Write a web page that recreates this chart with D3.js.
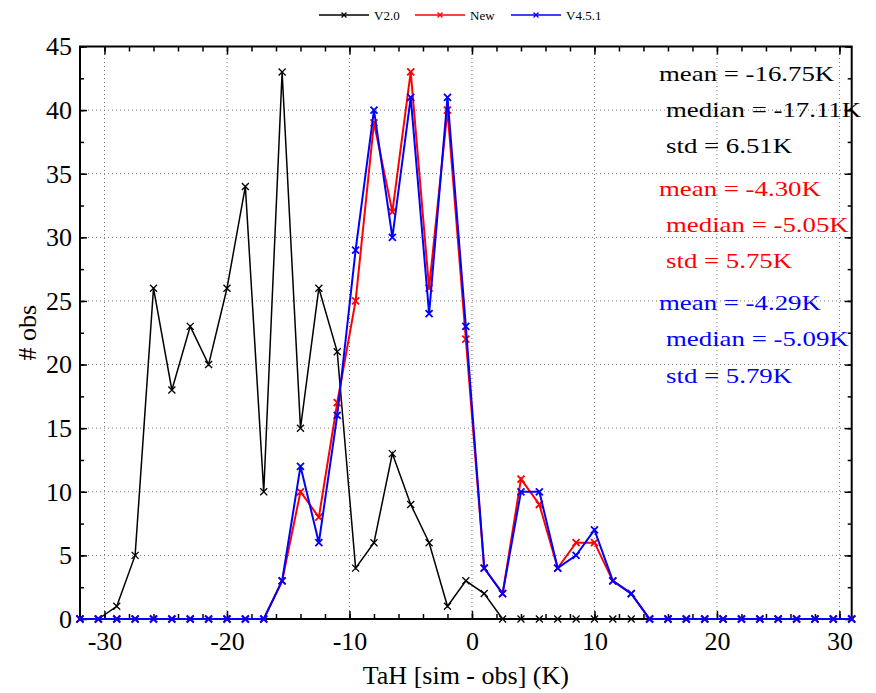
<!DOCTYPE html>
<html>
<head>
<meta charset="utf-8">
<script src="https://cdn.jsdelivr.net/npm/d3@7"></script>
<style>
  body { margin: 0; background: #fff; }
  text { font-family: "Liberation Serif", "Times New Roman", serif; }
</style>
</head>
<body>
<div id="chart"></div>
<script>
// bins of the histogram (K), one every 1.5 K
var binCenters = d3.range(43).map(function (k) { return -32 + 1.5 * k; });

var v20 = [0,0,1,5,26,18,23,20,26,34,10,43,15,26,21,4,6,13,9,6,1,3,2,
           0,0,0,0,0,0,0,0,0,0,0,0,0,0,0,0,0,0,0,0];
var vNew = [0,0,0,0,0,0,0,0,0,0,0,
            3,10,8,17,25,39,32,43,26,40,22,4,2,11,9,4,6,6,3,2,
            0,0,0,0,0,0,0,0,0,0,0,0];
var v451 = [0,0,0,0,0,0,0,0,0,0,0,
            3,12,6,16,29,40,30,41,24,41,23,4,2,10,10,4,5,7,3,2,
            0,0,0,0,0,0,0,0,0,0,0,0];

var seriesNames = ["V2.0", "New", "V4.5.1"];
var seriesColors = ["#000000", "#ff0000", "#0000ff"];

var xTicks = [-30, -20, -10, 0, 10, 20, 30];
var xMinor = d3.range(-30, 31, 2);
var yTicks = [0, 5, 10, 15, 20, 25, 30, 35, 40, 45];
var yMinor = d3.range(0, 45.1, 2.5);

var statLines = [
  ["mean = -16.75K", "median = -17.11K", "std = 6.51K"],
  ["mean = -4.30K", "median = -5.05K", "std = 5.75K"],
  ["mean = -4.29K", "median = -5.09K", "std = 5.79K"]
];

var W = 876, H = 693;
var margin = {t: 46.5, r: 24.3, b: 74, l: 80};

var svg = d3.select("#chart").append("svg")
    .attr("width", W)
    .attr("height", H);

var x = d3.scaleLinear().domain([-32, 31]).range([margin.l, W - margin.r]);
var y = d3.scaleLinear().domain([0, 45]).range([H - margin.b, margin.t]);

//plain hyphen like the original, not the unicode minus
var plain = function (d) { return String(d); };

//dotted grid
var grid = svg.append("g").attr("class", "grid");
grid.selectAll(".gx")
    .data(xTicks)
    .enter().append("line")
    .attr("x1", function (d) { return x(d); })
    .attr("x2", function (d) { return x(d); })
    .attr("y1", y(0))
    .attr("y2", y(45))
    .attr("stroke", "#777")
    .attr("stroke-width", 1)
    .attr("stroke-dasharray", "1,3");
grid.selectAll(".gy")
    .data(yTicks.slice(1, -1))
    .enter().append("line")
    .attr("x1", x(-32))
    .attr("x2", x(31))
    .attr("y1", function (d) { return y(d); })
    .attr("y2", function (d) { return y(d); })
    .attr("stroke", "#777")
    .attr("stroke-width", 1)
    .attr("stroke-dasharray", "1,3");

//axes, ticks pointing inside
function styleAxis(g) {
    g.select(".domain").remove();
    g.selectAll(".tick line").attr("stroke", "#000").attr("stroke-width", 1.5);
    g.selectAll("text").attr("fill", "#000").style("font-size", "26px");
}

svg.append("g")
    .attr("transform", "translate(0," + y(0) + ")")
    .call(d3.axisBottom(x).tickValues(xTicks).tickSize(-8).tickPadding(13)
        .tickFormat(plain))
    .call(styleAxis);
svg.append("g")
    .attr("transform", "translate(0," + y(0) + ")")
    .call(d3.axisBottom(x).tickValues(xMinor).tickSize(-5).tickFormat(""))
    .call(styleAxis);
svg.append("g")
    .attr("transform", "translate(0," + y(45) + ")")
    .call(d3.axisTop(x).tickValues(xTicks).tickSize(-8).tickFormat(""))
    .call(styleAxis);
svg.append("g")
    .attr("transform", "translate(0," + y(45) + ")")
    .call(d3.axisTop(x).tickValues(xMinor).tickSize(-5).tickFormat(""))
    .call(styleAxis);

svg.append("g")
    .attr("transform", "translate(" + x(-32) + ",0)")
    .call(d3.axisLeft(y).tickValues(yTicks).tickSize(-7).tickPadding(8).tickFormat(plain))
    .call(styleAxis);
svg.append("g")
    .attr("transform", "translate(" + x(-32) + ",0)")
    .call(d3.axisLeft(y).tickValues(yMinor).tickSize(-4).tickFormat(""))
    .call(styleAxis);
svg.append("g")
    .attr("transform", "translate(" + x(31) + ",0)")
    .call(d3.axisRight(y).tickValues(yTicks).tickSize(-7).tickFormat(""))
    .call(styleAxis);
svg.append("g")
    .attr("transform", "translate(" + x(31) + ",0)")
    .call(d3.axisRight(y).tickValues(yMinor).tickSize(-4).tickFormat(""))
    .call(styleAxis);

//frame
svg.append("rect")
    .attr("x", x(-32))
    .attr("y", y(45))
    .attr("width", x(31) - x(-32))
    .attr("height", y(0) - y(45))
    .attr("fill", "none")
    .attr("stroke", "#000")
    .attr("stroke-width", 2);

//series
var cross = "M-3.5,-3.5L3.5,3.5M-3.5,3.5L3.5,-3.5";
var line = d3.line()
    .x(function (d) { return x(d[0]); })
    .y(function (d) { return y(d[1]); });

var allSeries = [v20, vNew, v451];
allSeries.forEach(function (vals, i) {
    var pts = binCenters.map(function (c, k) { return [c, vals[k]]; });
    var g = svg.append("g").attr("class", "series");
    g.append("path")
        .datum(pts)
        .attr("d", line)
        .attr("fill", "none")
        .attr("stroke", seriesColors[i])
        .attr("stroke-width", i == 0 ? 1.5 : 2);
    g.selectAll(".m")
        .data(pts)
        .enter().append("path")
        .attr("transform", function (d) { return "translate(" + x(d[0]) + "," + y(d[1]) + ")"; })
        .attr("d", cross)
        .attr("stroke", seriesColors[i])
        .attr("stroke-width", i == 0 ? 1.3 : 1.8)
        .attr("fill", "none");
});

//stats text
var statX = [659, 666, 666];
var statY0 = [80.7, 195.7, 310];
statLines.forEach(function (lines, i) {
    lines.forEach(function (t, j) {
        svg.append("text")
            .attr("transform", "translate(" + statX[j] + "," + (statY0[i] + j * 36.3) + ") scale(1.22,1)")
            .attr("fill", seriesColors[i])
            .style("font-size", "22px")
            .text(t);
    });
});

//axis titles
svg.append("text")
    .attr("x", (x(-32) + x(31)) / 2)
    .attr("y", 684)
    .attr("text-anchor", "middle")
    .style("font-size", "26px")
    .text("TaH [sim - obs] (K)");
svg.append("text")
    .attr("transform", "translate(36," + (y(0) + y(45)) / 2 + ") rotate(-90)")
    .attr("text-anchor", "middle")
    .style("font-size", "26px")
    .text("# obs");

//legend
var legX = [319, 415, 511];
var legend = svg.append("g").attr("class", "legend");
seriesNames.forEach(function (name, i) {
    var lg = legend.append("g").attr("transform", "translate(" + legX[i] + ",15)");
    lg.append("line")
        .attr("x1", 0).attr("x2", 50)
        .attr("y1", 0).attr("y2", 0)
        .attr("stroke", seriesColors[i])
        .attr("stroke-width", 1.5);
    lg.append("path")
        .attr("transform", "translate(25,0)")
        .attr("d", "M-2.5,-2.5L2.5,2.5M-2.5,2.5L2.5,-2.5")
        .attr("stroke", seriesColors[i])
        .attr("stroke-width", 1.3);
    lg.append("text")
        .attr("x", 55)
        .attr("y", 5)
        .style("font-size", "13px")
        .text(name);
});
</script>
</body>
</html>
